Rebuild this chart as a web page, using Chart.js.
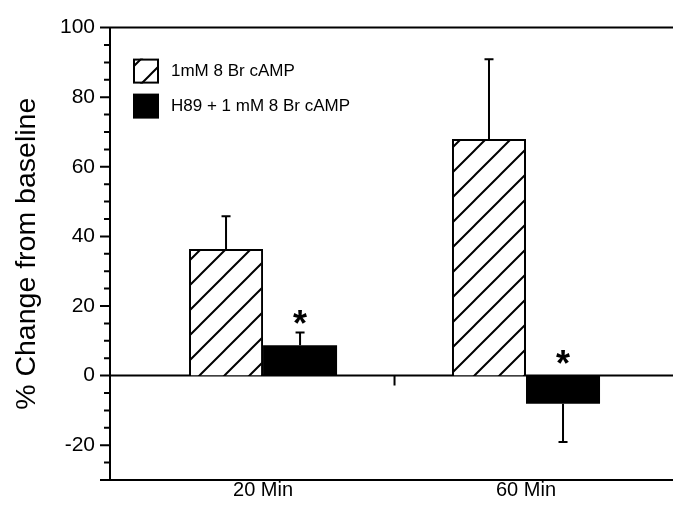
<!DOCTYPE html>
<html>
<head>
<meta charset="utf-8">
<script src="https://cdn.jsdelivr.net/npm/chart.js@4.4.0/dist/chart.umd.min.js"></script>
<style>
  html, body { margin: 0; padding: 0; background: #fff; }
  #wrap { width: 673px; height: 513px; }
</style>
</head>
<body>
<div id="wrap"><canvas id="chart"></canvas></div>
<script>
// data
const categories = ['20 Min', '60 Min'];
const seriesNames = ['1mM 8 Br cAMP', 'H89 + 1 mM 8 Br cAMP'];
const campValues = [36.4, 68.0];
const campErrors = [9.4, 22.9];
const h89Values = [8.7, -8.1];
const h89Errors = [3.7, 11.0];
const starValues = [16.7, 5.4]; // the * marks over the H89 bars
const yMin = -30, yMax = 100, yStep = 5, yLabelEvery = 20;

const FONT = '"Liberation Sans", Arial, Helvetica, sans-serif';

// diagonal hatch for the cAMP bars
function makeHatch() {
    const size = 25;
    const c = document.createElement('canvas');
    c.width = size; c.height = size;
    const g = c.getContext('2d');
    g.fillStyle = '#fff';
    g.fillRect(0, 0, size, size);
    g.strokeStyle = '#000';
    g.lineWidth = 2;
    g.beginPath();
    g.moveTo(-2, size + 2); g.lineTo(size + 2, -2);
    g.moveTo(-2, 2); g.lineTo(2, -2);
    g.moveTo(size - 2, size + 2); g.lineTo(size + 2, size - 2);
    g.stroke();
    return g.createPattern(c, 'repeat');
}
const hatch = makeHatch();

const toPoints = vals => vals.map((v, i) => ({ x: i + 1, y: v }));
const errorSets = [campErrors, h89Errors];

const decor = {
    id: 'decor',
    beforeDatasetsDraw(chart) {
        const { ctx, chartArea: a, scales: { x, y } } = chart;
        const y0 = y.getPixelForValue(0);
        ctx.save();
        ctx.strokeStyle = '#000';
        ctx.lineWidth = 2;
        ctx.beginPath();
        // top and bottom frame lines, running a little past the y axis
        ctx.moveTo(a.left - 10, a.top); ctx.lineTo(a.right, a.top);
        ctx.moveTo(a.left - 10, a.bottom); ctx.lineTo(a.right, a.bottom);
        // zero line
        ctx.moveTo(a.left, y0); ctx.lineTo(a.right, y0);
        // little tick between the two groups
        const xs = x.getPixelForValue(1.5);
        ctx.moveTo(xs, y0); ctx.lineTo(xs, y0 + 10);
        // y tick marks, longer on labelled ones
        y.ticks.forEach(t => {
            const py = y.getPixelForValue(t.value);
            const len = t.value % yLabelEvery === 0 ? 10 : 6;
            ctx.moveTo(a.left - len, py); ctx.lineTo(a.left, py);
        });
        ctx.stroke();
        ctx.restore();
    },
    afterDatasetsDraw(chart) {
        const { ctx, scales: { y } } = chart;
        ctx.save();
        ctx.strokeStyle = '#000';
        ctx.lineWidth = 2;
        ctx.beginPath();
        errorSets.forEach((errs, di) => {
            const meta = chart.getDatasetMeta(di);
            meta.data.forEach((bar, i) => {
                const v = chart.data.datasets[di].data[i].y;
                const yEnd = y.getPixelForValue(v + Math.sign(v) * errs[i]);
                ctx.moveTo(bar.x, bar.y); ctx.lineTo(bar.x, yEnd);
                ctx.moveTo(bar.x - 4.5, yEnd); ctx.lineTo(bar.x + 4.5, yEnd);
            });
        });
        ctx.stroke();

        // asterisks
        ctx.fillStyle = '#000';
        ctx.font = 'bold 36px ' + FONT;
        ctx.textAlign = 'center';
        ctx.textBaseline = 'alphabetic';
        const m = ctx.measureText('*');
        const shift = (m.actualBoundingBoxAscent - m.actualBoundingBoxDescent) / 2;
        const meta = chart.getDatasetMeta(1);
        starValues.forEach((s, i) => {
            ctx.fillText('*', meta.data[i].x, y.getPixelForValue(s) + shift);
        });
        ctx.restore();
    },
    afterDraw(chart) {
        const { ctx, chartArea: a } = chart;
        ctx.save();
        const fills = [hatch, '#000'];
        ctx.font = '17px ' + FONT;
        ctx.textBaseline = 'middle';
        ctx.textAlign = 'left';
        seriesNames.forEach((name, i) => {
            const bx = a.left + 23, by = a.top + 31 + i * 35;
            ctx.fillStyle = fills[i];
            ctx.fillRect(bx, by, 26, 25);
            if (i === 0) {
                ctx.strokeStyle = '#000';
                ctx.lineWidth = 2;
                ctx.strokeRect(bx + 1, by + 1, 24, 23);
            }
            ctx.fillStyle = '#000';
            ctx.fillText(name, a.left + 61, by + 13);
        });
        ctx.restore();
    }
};

new Chart(document.getElementById('chart'), {
    type: 'bar',
    data: {
        datasets: [{
            label: seriesNames[0],
            data: toPoints(campValues),
            backgroundColor: hatch,
            borderColor: '#000',
            borderWidth: 2,
            categoryPercentage: 0.563,
            barPercentage: 1.0
        }, {
            label: seriesNames[1],
            data: toPoints(h89Values),
            backgroundColor: '#000',
            borderWidth: 0,
            categoryPercentage: 0.563,
            barPercentage: 1.0
        }]
    },
    plugins: [decor],
    options: {
        responsive: true,
        maintainAspectRatio: false,
        animation: false,
        layout: { padding: { top: 20, right: 0, bottom: 0, left: 0 } },
        plugins: {
            legend: { display: false },
            tooltip: { enabled: false }
        },
        scales: {
            x: {
                type: 'linear',
                offset: false,
                min: 0.418,
                max: 2.559,
                afterBuildTicks: axis => {
                    axis.ticks = categories.map((c, i) => ({ value: i + 1 }));
                },
                afterFit: axis => { axis.height = 33; },
                grid: { display: false, drawTicks: false, offset: false },
                border: { display: true, color: '#000', width: 2 },
                ticks: {
                    autoSkip: false,
                    maxRotation: 0,
                    padding: 0,
                    color: '#000',
                    font: { family: FONT, size: 20, lineHeight: 1 },
                    callback: v => categories[Math.round(v) - 1]
                }
            },
            y: {
                min: yMin,
                max: yMax,
                afterFit: axis => { axis.width = 110; },
                grid: { display: false, drawTicks: false },
                border: { display: true, color: '#000', width: 2 },
                ticks: {
                    stepSize: yStep,
                    autoSkip: false,
                    padding: 15,
                    color: '#000',
                    font: { family: FONT, size: 21 },
                    callback: v => (v % yLabelEvery === 0 ? v : '')
                },
                title: {
                    display: true,
                    text: '% Change from baseline',
                    color: '#000',
                    font: { family: FONT, size: 28.5 },
                    padding: { top: 10, bottom: 0 }
                }
            }
        }
    }
});
</script>
</body>
</html>
